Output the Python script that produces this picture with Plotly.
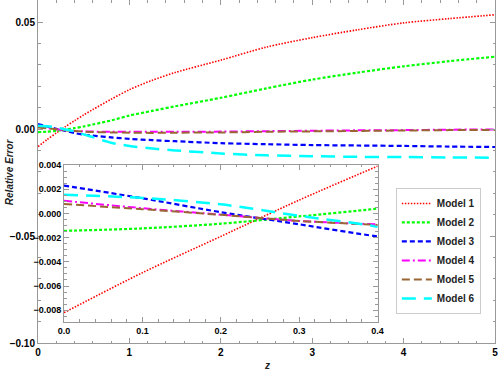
import plotly.graph_objects as go

# redshift samples
z = [0, 0.1, 0.2, 0.3, 0.4, 0.5, 0.6, 0.8, 1.0, 1.25, 1.5, 2.0, 2.5, 3.0, 3.5, 4.0, 4.5, 5.0]

# relative error of each model
model1 = [-0.0082, -0.0049, -0.0019, 0.0011, 0.0039, 0.0066, 0.0091, 0.0139, 0.0184, 0.0228, 0.0264,
          0.0322, 0.0383, 0.0427, 0.0464, 0.0496, 0.0516, 0.0534]
model2 = [-0.00144, -0.00124, -0.00085, -0.00025, 0.0004, 0.0012, 0.0021, 0.0040, 0.0063, 0.0085, 0.0106,
          0.0146, 0.0190, 0.0231, 0.0264, 0.0293, 0.0317, 0.0338]
model3 = [0.0023, 0.00125, 0.0001, -0.0009, -0.0019, -0.0026, -0.0031, -0.0039, -0.0046, -0.0052, -0.0057,
          -0.0066, -0.0071, -0.0075, -0.0077, -0.0079, -0.0082, -0.0084]
model4 = [0.00104, 0.00043, -0.0001, -0.00062, -0.00091, -0.0011, -0.0012, -0.0013, -0.0013, -0.0013, -0.0013,
          -0.0012, -0.0010, -0.0008, -0.0006, -0.0005, -0.0003, -0.0002]
model5 = [0.00077, 0.00035, -0.00012, -0.00062, -0.00095, -0.0012, -0.0014, -0.0016, -0.0017, -0.0018, -0.0017,
          -0.0016, -0.0013, -0.0011, -0.0009, -0.0007, -0.0005, -0.0004]
model6 = [0.00154, 0.00128, 0.00075, -0.0002, -0.0011, -0.0025, -0.0038, -0.0064, -0.0079, -0.0091, -0.0100,
          -0.0114, -0.0123, -0.0127, -0.0130, -0.0131, -0.0133, -0.0134]

names = ["Model 1", "Model 2", "Model 3", "Model 4", "Model 5", "Model 6"]
series = [model1, model2, model3, model4, model5, model6]
colors = ["#ff0000", "#00ff00", "#0000ff", "#ff00ff", "#996633", "#00ffff"]
dashes = ["1.5px,1.5px", "3px,2px", "5px,3px", "8px,3px,2px,3px", "8px,4px", "14px,8px"]
widths = [1.6, 2.2, 2.2, 2.0, 2.0, 2.5]

fig = go.Figure()
for nm, ys, c, d, w in zip(names, series, colors, dashes, widths):
    line = dict(color=c, dash=d, width=w, shape="spline", smoothing=0.8)
    fig.add_trace(go.Scatter(x=z, y=ys, mode="lines", name=nm, line=line, xaxis="x", yaxis="y"))
    fig.add_trace(go.Scatter(x=z, y=ys, mode="lines", name=nm, line=line, xaxis="x2", yaxis="y2",
                             showlegend=False))

frame = "#999999"
tfont = dict(family="Liberation Sans, Arial", size=10, color="black", weight="bold")

fig.update_layout(
    width=498, height=372,
    margin=dict(l=38, r=3, t=0, b=29),
    paper_bgcolor="white", plot_bgcolor="white",
    showlegend=True,
    legend=dict(x=0.783, y=0.452, xanchor="left", yanchor="top",
                bgcolor="white", bordercolor="#cccccc", borderwidth=1,
                font=dict(family="Liberation Sans, Arial", size=10, color="#222", weight="bold"),
                tracegroupgap=0),
    xaxis=dict(range=[0, 5], domain=[0, 1], showgrid=False, zeroline=False, automargin=False,
               showline=True, linecolor=frame, linewidth=1, mirror="ticks",
               ticks="inside", ticklen=5, tickcolor=frame, dtick=1, tickfont=tfont,
               ticklabeloverflow="allow",
               minor=dict(dtick=0.2, ticks="inside", ticklen=2.5, tickcolor=frame)),
    yaxis=dict(range=[-0.1, 0.0603], domain=[0, 1], showgrid=False, zeroline=False, automargin=False,
               showline=True, linecolor=frame, linewidth=1, mirror="ticks",
               ticks="inside", ticklen=5, tickcolor=frame, dtick=0.05, tickformat=".2f",
               tickfont=tfont,
               minor=dict(dtick=0.01, ticks="inside", ticklen=2.5, tickcolor=frame)),
    xaxis2=dict(range=[0, 0.4], domain=[0.0569, 0.743], anchor="y2", showgrid=False, zeroline=False,
                automargin=False, showline=True, linecolor=frame, linewidth=1, mirror="ticks",
                ticks="inside", ticklen=5, tickcolor=frame, dtick=0.1, tickformat=".1f",
                tickfont=dict(tfont, size=9),
                minor=dict(dtick=0.02, ticks="inside", ticklen=2.5, tickcolor=frame)),
    yaxis2=dict(range=[-0.00895, 0.004], domain=[0.062, 0.519], anchor="x2", showgrid=False,
                zeroline=False, automargin=False, showline=True, linecolor=frame, linewidth=1,
                mirror="ticks", ticks="inside", ticklen=5, tickcolor=frame, dtick=0.002,
                tickformat=".3f", tickfont=dict(tfont, size=9),
                minor=dict(dtick=0.0005, ticks="inside", ticklen=2.5, tickcolor=frame)),
)

# inset background
fig.add_shape(type="rect", xref="x2 domain", yref="y2 domain", x0=0, x1=1, y0=0, y1=1,
              fillcolor="white", line=dict(width=0), layer="below")

fig.add_annotation(text="<b><i>Relative Error</i></b>", xref="paper", yref="paper",
                   x=-0.062, y=0.5, xanchor="center", textangle=-90, showarrow=False,
                   font=dict(family="Liberation Sans, Arial", size=10, color="#222"))
fig.add_annotation(text="<b><i>z</i></b>", xref="paper", yref="paper",
                   x=0.5, y=-0.045, yanchor="top", showarrow=False,
                   font=dict(family="Liberation Sans, Arial", size=10, color="#222"))

# drop the default page margin so the figure sits at the window corner
fig.write_html("out.html", config={"displayModeBar": False},
               post_script="document.body.style.margin='0px';")
